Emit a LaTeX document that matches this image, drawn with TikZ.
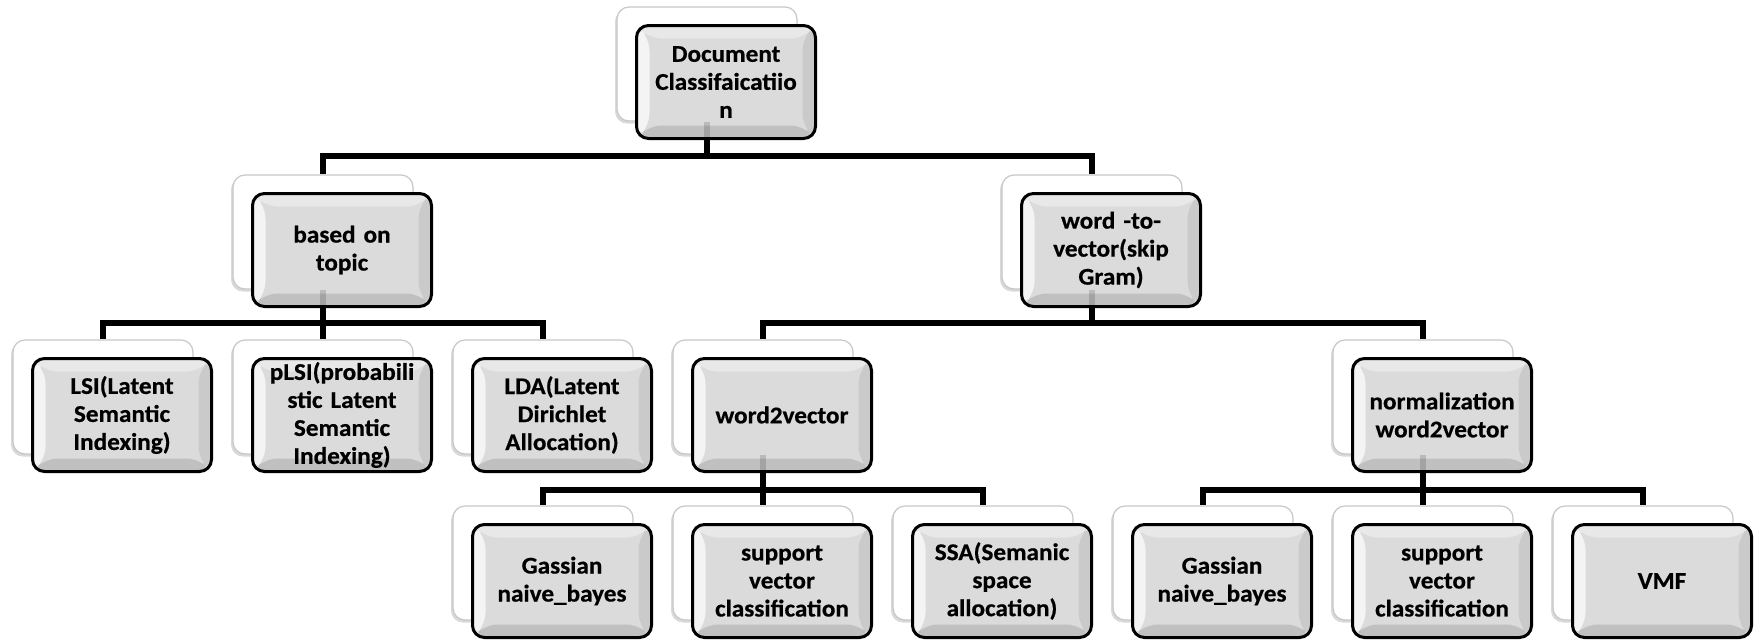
\documentclass[tikz,border=0pt]{standalone}
\usepackage{fontspec}
\setmainfont{Carlito}[FakeStretch=1.05,FakeBold=0.6]
\usetikzlibrary{shadows,calc}
\definecolor{face}{HTML}{DBDBDB}
\definecolor{bvtop}{HTML}{E8E8E8}
\definecolor{bvleft}{HTML}{F4F4F4}
\definecolor{bvright}{HTML}{CACACA}
\definecolor{bvbot}{HTML}{C0C0C0}
\newcommand{\mybevel}{%
  \coordinate (nw) at (path picture bounding box.north west);
  \coordinate (ne) at (path picture bounding box.north east);
  \coordinate (sw) at (path picture bounding box.south west);
  \coordinate (se) at (path picture bounding box.south east);
  \coordinate (inw) at ([shift={(13pt,-13pt)}]nw);
  \coordinate (ine) at ([shift={(-13pt,-13pt)}]ne);
  \coordinate (isw) at ([shift={(13pt,13pt)}]sw);
  \coordinate (ise) at ([shift={(-13pt,13pt)}]se);
  \fill[bvtop] (nw) -- (ne) -- (ine) -- (inw) -- cycle;
  \fill[bvleft] (nw) -- (inw) -- (isw) -- (sw) -- cycle;
  \fill[bvright] (ne) -- (se) -- (ise) -- (ine) -- cycle;
  \fill[bvbot] (sw) -- (isw) -- (ise) -- (se) -- cycle;
}
\tikzset{
  conn/.style={line width=5.5pt, draw=black},
  faint/.style={line width=5.5pt, draw=black, draw opacity=0.15},
  backbox/.style={draw=black!22, line width=1.2pt, fill=white, rounded corners=12pt,
    minimum width=180pt, minimum height=114pt, inner sep=0pt,
    drop shadow={shadow xshift=-2pt, shadow yshift=-2.5pt, opacity=0.25, fill=black!60}},
  frontbox/.style={draw=black, line width=3pt, rounded corners=12pt, fill=face,
    minimum width=179pt, minimum height=113pt, inner sep=0pt, align=center,
    text width=172pt, font=\bfseries\fontsize{24}{28}\selectfont,
    path picture={\mybevel}},
}
\newcommand{\tbox}[4]{%
  \node[backbox] (#1-b) at (#2+91-19,#3+58-18) {};
  \node[frontbox] (#1) at (#2+91,#3+58) {#4};
}
\begin{document}
\begin{tikzpicture}[x=1pt,y=-1pt]
\useasboundingbox (0,0) rectangle (1760,640);
\coordinate (h1) at (0,156);
\coordinate (h2) at (0,323);
\coordinate (h3) at (0,490);
% boxes
\tbox{root}{635}{24}{Document\\Classifaicatiio\\n}
\tbox{topic}{251}{192}{based on\\topic}
\tbox{wtv}{1020}{192}{word -to-\\vector(skip\\Gram)}
\tbox{lsi}{31}{357}{LSI(Latent\\Semantic\\Indexing)}
\tbox{plsi}{251}{357}{pLSI(probabili\\stic Latent\\Semantic\\Indexing)}
\tbox{lda}{471}{357}{LDA(Latent\\Dirichlet\\Allocation)}
\tbox{wv}{691}{357}{word2vector}
\tbox{nwv}{1351}{357}{normalization\\word2vector}
\tbox{gnbA}{471}{523}{Gassian\\naive\_bayes}
\tbox{svcA}{691}{523}{support\\vector\\classification}
\tbox{ssa}{911}{523}{SSA(Semanic\\space\\allocation)}
\tbox{gnbB}{1131}{523}{Gassian\\naive\_bayes}
\tbox{svcB}{1351}{523}{support\\vector\\classification}
\tbox{vmf}{1571}{523}{VMF}
% connectors
\foreach \p in {root,topic,wtv,wv,nwv}{
  \draw[faint] (\p-b.south) -- (\p-b.south |- \p.south);
}
\draw[conn] (root-b.south |- root.south) -- (root-b.south |- h1) -| (topic-b.north);
\draw[conn] (root-b.south |- h1) -| (wtv-b.north);
\draw[conn] (topic-b.south |- topic.south) -- (topic-b.south |- h2) -| (lsi-b.north);
\draw[conn] (topic-b.south |- h2) -- (plsi-b.north);
\draw[conn] (topic-b.south |- h2) -| (lda-b.north);
\draw[conn] (wtv-b.south |- wtv.south) -- (wtv-b.south |- h2) -| (wv-b.north);
\draw[conn] (wtv-b.south |- h2) -| (nwv-b.north);
\draw[conn] (wv-b.south |- wv.south) -- (wv-b.south |- h3) -| (gnbA-b.north);
\draw[conn] (wv-b.south |- h3) -- (svcA-b.north);
\draw[conn] (wv-b.south |- h3) -| (ssa-b.north);
\draw[conn] (nwv-b.south |- nwv.south) -- (nwv-b.south |- h3) -| (gnbB-b.north);
\draw[conn] (nwv-b.south |- h3) -- (svcB-b.north);
\draw[conn] (nwv-b.south |- h3) -| (vmf-b.north);
\end{tikzpicture}
\end{document}
